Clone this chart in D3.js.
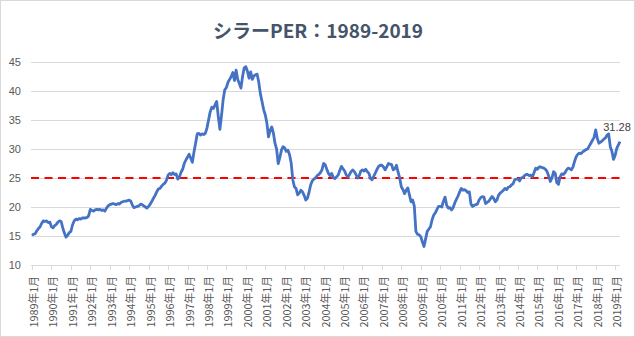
<!DOCTYPE html>
<html>
<head>
<meta charset="utf-8">
<script src="https://cdn.jsdelivr.net/npm/d3@7"></script>
<style>
  html, body { margin: 0; padding: 0; background: #fff; }
  svg { display: block; }
</style>
</head>
<body>
<svg id="chart" width="635" height="337"></svg>
<script>
  // Monthly Shiller PE, January of each year onward (2019 runs Jan-Apr)
  var startYear = 1989;
  var per1989 = [15.1, 15.3, 15.4, 15.9, 16.3, 16.6, 17.2, 17.6, 17.5, 17.6, 17.3, 17.4];
  var per1990 = [16.6, 16.4, 16.8, 17.0, 17.4, 17.6, 17.5, 16.4, 15.5, 14.8, 15.1, 15.6];
  var per1991 = [15.8, 16.9, 17.6, 17.9, 17.8, 18.0, 17.9, 18.1, 18.1, 18.1, 18.2, 18.5];
  var per1992 = [19.6, 19.4, 19.3, 19.5, 19.6, 19.5, 19.6, 19.4, 19.5, 19.3, 19.8, 20.2];
  var per1993 = [20.4, 20.5, 20.6, 20.5, 20.4, 20.6, 20.5, 20.8, 20.9, 21.0, 21.0, 21.1];
  var per1994 = [21.2, 21.0, 20.3, 19.9, 20.0, 20.1, 20.2, 20.5, 20.4, 20.2, 20.0, 19.8];
  var per1995 = [20.1, 20.5, 21.0, 21.5, 22.0, 22.6, 23.1, 23.2, 23.6, 23.9, 24.1, 24.6];
  var per1996 = [25.5, 25.8, 25.6, 25.9, 25.6, 25.7, 24.8, 25.1, 26.0, 26.5, 27.5, 28.1];
  var per1997 = [28.6, 29.1, 28.4, 27.7, 29.5, 31.0, 32.6, 32.7, 32.4, 32.6, 32.5, 32.7];
  var per1998 = [33.6, 35.0, 36.4, 37.2, 37.0, 37.6, 38.2, 35.6, 33.4, 35.8, 38.5, 40.2];
  var per1999 = [40.6, 41.5, 42.0, 42.5, 43.2, 41.8, 43.6, 42.0, 41.3, 40.5, 42.5, 44.0];
  var per2000 = [44.2, 43.4, 42.2, 43.3, 42.0, 42.6, 42.8, 42.9, 41.5, 39.5, 38.2, 36.8];
  var per2001 = [35.9, 34.5, 32.1, 33.2, 33.8, 32.8, 31.0, 30.0, 27.5, 28.5, 29.8, 30.4];
  var per2002 = [30.2, 29.6, 29.8, 29.0, 27.6, 24.7, 23.5, 23.2, 22.1, 22.4, 22.9, 22.6];
  var per2003 = [22.0, 21.2, 21.5, 22.5, 23.8, 24.5, 24.8, 25.0, 25.4, 25.6, 25.9, 26.4];
  var per2004 = [27.5, 27.3, 26.5, 25.8, 25.4, 25.8, 25.1, 24.9, 25.2, 25.5, 26.3, 27.0];
  var per2005 = [26.6, 26.2, 25.5, 25.2, 25.6, 26.1, 26.4, 26.1, 25.6, 25.0, 25.4, 26.2];
  var per2006 = [26.4, 26.2, 26.5, 26.1, 25.8, 24.9, 24.7, 25.3, 25.9, 26.5, 27.0, 27.2];
  var per2007 = [27.2, 26.9, 26.4, 26.9, 27.5, 27.4, 27.3, 26.4, 26.6, 27.2, 26.0, 25.0];
  var per2008 = [23.5, 23.0, 22.3, 22.9, 23.3, 22.1, 20.9, 21.2, 20.2, 15.8, 15.3, 15.2];
  var per2009 = [14.9, 14.0, 13.2, 14.5, 15.8, 16.2, 16.6, 17.8, 18.6, 19.0, 19.6, 20.1];
  var per2010 = [20.1, 20.0, 21.0, 21.7, 20.3, 19.8, 19.9, 19.5, 19.9, 20.7, 21.3, 21.9];
  var per2011 = [22.6, 23.2, 22.9, 23.0, 22.8, 22.5, 22.6, 20.5, 20.1, 20.3, 20.4, 20.5];
  var per2012 = [21.2, 21.6, 21.8, 21.7, 20.6, 20.8, 21.0, 21.4, 21.8, 21.5, 20.9, 21.2];
  var per2013 = [22.0, 22.4, 22.6, 22.9, 23.2, 23.0, 23.4, 23.5, 23.8, 24.0, 24.7, 24.8];
  var per2014 = [24.8, 24.5, 25.0, 25.1, 25.4, 25.6, 25.6, 25.4, 25.5, 25.2, 26.0, 26.7];
  var per2015 = [26.5, 26.9, 26.9, 26.8, 26.7, 26.5, 26.1, 25.3, 24.4, 25.0, 26.1, 25.8];
  var per2016 = [24.2, 23.9, 25.2, 25.7, 25.6, 25.9, 26.4, 26.7, 26.6, 26.4, 26.9, 27.9];
  var per2017 = [28.7, 29.1, 29.3, 29.2, 29.5, 29.7, 29.9, 30.0, 30.5, 31.0, 31.5, 32.0];
  var per2018 = [33.3, 31.8, 31.0, 31.2, 31.4, 31.7, 31.9, 32.4, 32.6, 30.4, 29.6, 28.2];
  var per2019 = [28.9, 30.1, 30.7, 31.28];

  var threshold = 25;
  var yTicks = [10, 15, 20, 25, 30, 35, 40, 45];
  var titleText = "シラーPER：1989-2019";

  var values = [].concat(per1989, per1990, per1991, per1992, per1993, per1994, per1995,
    per1996, per1997, per1998, per1999, per2000, per2001, per2002, per2003, per2004,
    per2005, per2006, per2007, per2008, per2009, per2010, per2011, per2012, per2013,
    per2014, per2015, per2016, per2017, per2018, per2019);

  var points = values.map(function(v, i) {
    return { year: startYear + Math.floor(i / 12), month: i % 12 + 1, index: i, value: v };
  });
  var yearStarts = points.filter(function(d) { return d.month === 1; });

  var svg = d3.select("#chart");
  var width = 635, height = 337;

  var x0 = 32, x1 = 620;
  var y0 = 265, y1 = 62;

  var x = d3.scaleLinear().domain([0, values.length - 1]).range([x0, x1]);
  var y = d3.scaleLinear().domain([10, 45]).range([y0, y1]);

  svg.append("rect")
    .attr("x", 0.5).attr("y", 0.5)
    .attr("width", width - 1).attr("height", height - 1)
    .attr("fill", "#ffffff")
    .attr("stroke", "#d9d9d9");

  svg.append("text")
    .attr("x", 318)
    .attr("y", 38)
    .attr("text-anchor", "middle")
    .attr("font-family", "'Noto Sans CJK JP', 'Noto Sans', sans-serif")
    .attr("font-weight", "bold")
    .attr("font-size", 19)
    .attr("fill", "#44546a")
    .text(titleText);

  // horizontal grid
  svg.append("g")
    .attr("stroke", "#d9d9d9")
    .attr("stroke-width", 1)
    .selectAll("line").data(yTicks.slice(1)).enter().append("line")
    .attr("x1", x0 - 1)
    .attr("x2", x1)
    .attr("y1", function(d) { return Math.round(y(d)) + 0.5; })
    .attr("y2", function(d) { return Math.round(y(d)) + 0.5; });

  // y axis labels
  svg.append("g")
    .attr("fill", "#595959")
    .attr("font-family", "'Liberation Sans', Arial, sans-serif")
    .attr("font-size", 11)
    .attr("text-anchor", "end")
    .attr("dominant-baseline", "central")
    .selectAll("text").data(yTicks).enter().append("text")
    .attr("x", 21)
    .attr("y", function(d) { return y(d); })
    .text(function(d) { return d; });

  // category axis
  var xAxis = svg.append("g").attr("stroke", "#d9d9d9").attr("stroke-width", 1);
  xAxis.append("line")
    .attr("x1", x0 - 1).attr("x2", x1)
    .attr("y1", Math.round(y0) + 0.5).attr("y2", Math.round(y0) + 0.5);
  xAxis.selectAll("line.tick").data(yearStarts).enter().append("line")
    .attr("class", "tick")
    .attr("x1", function(d) { return Math.round(x(d.index)) + 0.5; })
    .attr("x2", function(d) { return Math.round(x(d.index)) + 0.5; })
    .attr("y1", y0)
    .attr("y2", y0 + 5);

  svg.append("g")
    .attr("fill", "#595959")
    .attr("font-family", "'Noto Sans CJK JP', sans-serif")
    .attr("font-size", 10.8)
    .attr("text-anchor", "end")
    .attr("dominant-baseline", "central")
    .selectAll("text").data(yearStarts).enter().append("text")
    .attr("transform", function(d) { return "translate(" + (x(d.index) + 1) + "," + (y0 + 11) + ") rotate(-90)"; })
    .text(function(d) { return d.year + "年" + d.month + "月"; });

  // reference level
  svg.append("line")
    .attr("x1", x0 - 1)
    .attr("x2", x1 + 5)
    .attr("y1", y(threshold))
    .attr("y2", y(threshold))
    .attr("stroke", "#ff0000")
    .attr("stroke-width", 2.2)
    .attr("stroke-dasharray", "8,5.5");

  var line = d3.line()
    .x(function(d) { return x(d.index); })
    .y(function(d) { return y(d.value); });

  svg.append("path")
    .datum(points)
    .attr("fill", "none")
    .attr("stroke", "#4472c4")
    .attr("stroke-width", 2.8)
    .attr("stroke-linejoin", "round")
    .attr("d", line);

  var last = points[points.length - 1];
  svg.append("text")
    .attr("x", x(last.index) - 3)
    .attr("y", y(last.value) - 11)
    .attr("text-anchor", "middle")
    .attr("font-family", "'Liberation Sans', Arial, sans-serif")
    .attr("font-size", 11)
    .attr("fill", "#404040")
    .text(last.value.toFixed(2));
</script>
</body>
</html>
